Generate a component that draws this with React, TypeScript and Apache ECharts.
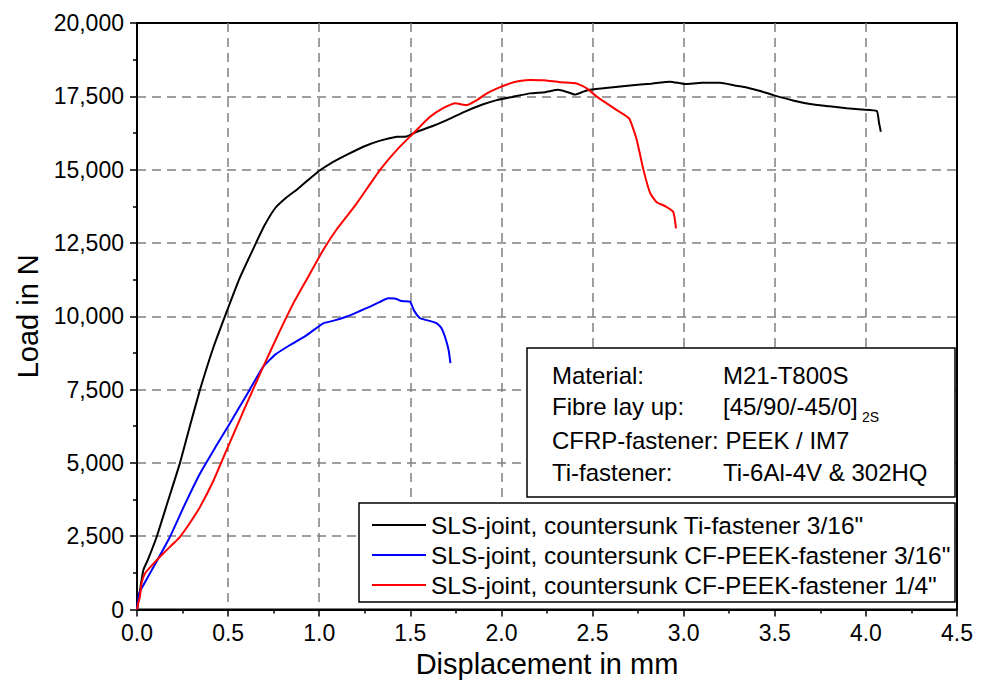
import React, { useEffect, useRef } from "react";
import * as echarts from "echarts";

const FONT = "'Liberation Sans', Arial, sans-serif";

const seriesNames = [
  'SLS-joint, countersunk Ti-fastener 3/16"',
  'SLS-joint, countersunk CF-PEEK-fastener 3/16"',
  'SLS-joint, countersunk CF-PEEK-fastener 1/4"',
];

const tiFastener316: number[][] = [
  [0, 0], [0.01, 400], [0.02, 800], [0.035, 1350], [0.06, 1700], [0.108, 2480], [0.17, 3700],
  [0.236, 5000], [0.29, 6250], [0.346, 7500], [0.42, 8950], [0.492, 10150], [0.56, 11250],
  [0.638, 12300], [0.7, 13100], [0.76, 13700], [0.82, 14050], [0.88, 14330], [0.94, 14650],
  [1.004, 14980], [1.059, 15200], [1.15, 15500], [1.242, 15780], [1.33, 15980], [1.426, 16120],
  [1.48, 16130], [1.535, 16290], [1.62, 16480], [1.7, 16690], [1.8, 16980], [1.9, 17230],
  [1.974, 17370], [2.06, 17480], [2.157, 17600], [2.24, 17640], [2.312, 17720], [2.36, 17650],
  [2.404, 17560], [2.45, 17660], [2.486, 17720], [2.6, 17800], [2.706, 17870], [2.82, 17930],
  [2.925, 18000], [3.008, 17920], [3.1, 17960], [3.2, 17960], [3.28, 17870], [3.346, 17800],
  [3.42, 17680], [3.492, 17540], [3.6, 17360], [3.694, 17240], [3.8, 17160], [3.895, 17090],
  [3.98, 17050], [4.06, 17000], [4.072, 16600], [4.082, 16290],
];

const peekFastener316: number[][] = [
  [0, 0], [0.012, 550], [0.05, 1000], [0.1, 1550], [0.181, 2480], [0.26, 3550], [0.346, 4640],
  [0.43, 5530], [0.51, 6350], [0.6, 7300], [0.693, 8280], [0.76, 8700], [0.84, 9020],
  [0.93, 9350], [1.022, 9760], [1.08, 9850], [1.151, 9990], [1.22, 10170], [1.279, 10330],
  [1.33, 10480], [1.379, 10610], [1.42, 10600], [1.45, 10520], [1.498, 10500], [1.52, 10200],
  [1.553, 9930], [1.6, 9850], [1.645, 9760], [1.67, 9600], [1.69, 9300], [1.71, 8850], [1.72, 8400],
];

const peekFastener14: number[][] = [
  [0, 0], [0.008, 250], [0.016, 440], [0.025, 900], [0.044, 1230], [0.09, 1560], [0.145, 1920],
  [0.2, 2250], [0.236, 2480], [0.29, 2950], [0.346, 3500], [0.42, 4400], [0.492, 5440],
  [0.59, 6850], [0.693, 8280], [0.78, 9450], [0.858, 10440], [0.94, 11350], [1.022, 12260],
  [1.1, 13000], [1.2, 13800], [1.334, 14990], [1.43, 15700], [1.517, 16240], [1.608, 16800],
  [1.68, 17100], [1.745, 17260], [1.81, 17200], [1.86, 17350], [1.92, 17600], [1.98, 17780],
  [2.047, 17940], [2.1, 18020], [2.157, 18060], [2.23, 18050], [2.321, 17980], [2.413, 17940],
  [2.468, 17770], [2.523, 17490], [2.58, 17250], [2.633, 17030], [2.7, 16750], [2.72, 16450],
  [2.743, 16000], [2.779, 15000], [2.816, 14200], [2.85, 13900], [2.9, 13750], [2.943, 13560],
  [2.958, 13000],
];

const seriesColors = ["#000000", "#0000ff", "#ff0000"];

const infoLabels = ["Material:", "Fibre lay up:", "CFRP-fastener: PEEK / IM7", "Ti-fastener:"];
const infoValues = ["M21-T800S", "[45/90/-45/0]", "", "Ti-6Al-4V & 302HQ"];
const layUpSubscript = "2S";

const X_MIN = 0, X_MAX = 4.5, X_STEP = 0.5;
const Y_MIN = 0, Y_MAX = 20000, Y_STEP = 2500;

export default function App() {
  const ref = useRef<HTMLDivElement>(null);

  useEffect(() => {
    document.body.style.margin = "0";
    const chart = echarts.init(ref.current!, null, { renderer: "svg" });
    const datasets = [tiFastener316, peekFastener316, peekFastener14];
    const infoY = [375, 406, 440, 472];
    const infoFont = `24px ${FONT}`;

    const graphics: any[] = [
      {
        type: "rect",
        shape: { x: 527, y: 348, width: 428, height: 149 },
        style: { fill: "#fff", stroke: "#000", lineWidth: 1.5 },
        z: 10,
      },
      {
        type: "rect",
        shape: { x: 359, y: 503, width: 596, height: 99 },
        style: { fill: "#fff", stroke: "#000", lineWidth: 1.5 },
        z: 10,
      },
    ];
    infoLabels.forEach((t, i) => {
      graphics.push({
        type: "text",
        x: 552,
        y: infoY[i],
        z: 11,
        style: { text: t, font: infoFont, fill: "#000", verticalAlign: "middle" },
      });
      if (infoValues[i]) {
        graphics.push({
          type: "text",
          x: 723,
          y: infoY[i],
          z: 11,
          style: { text: infoValues[i], font: infoFont, fill: "#000", verticalAlign: "middle" },
        });
      }
    });
    graphics.push({
      type: "text",
      x: 862,
      y: 417,
      z: 11,
      style: { text: layUpSubscript, font: `14px ${FONT}`, fill: "#000", verticalAlign: "middle" },
    });

    chart.setOption({
      animation: false,
      backgroundColor: "#fff",
      textStyle: { fontFamily: FONT },
      grid: {
        left: 137,
        right: 30,
        top: 23,
        bottom: 79.5,
        show: true,
        borderColor: "#000",
        borderWidth: 2,
        backgroundColor: "transparent",
        outerBoundsMode: "none",
        containLabel: false,
      },
      legend: {
        show: true,
        orient: "vertical",
        left: 372,
        top: 512,
        padding: 0,
        itemWidth: 54,
        itemHeight: 14,
        itemGap: 4,
        z: 12,
        textStyle: { fontSize: 24.5, lineHeight: 26, color: "#000", fontFamily: FONT },
        data: seriesNames.map((n) => ({ name: n, icon: "path://M0,0 L54,0 L54,2 L0,2 Z" })),
      },
      xAxis: {
        type: "value",
        min: X_MIN,
        max: X_MAX,
        interval: X_STEP,
        name: "Displacement in mm",
        nameLocation: "middle",
        nameGap: 38,
        nameTextStyle: { fontSize: 29, color: "#000", fontFamily: FONT },
        axisLine: { show: true, lineStyle: { color: "#000", width: 2 } },
        axisTick: { show: true, length: 7, lineStyle: { color: "#000", width: 1.5 } },
        minorTick: { show: true, splitNumber: 2, length: 4, lineStyle: { color: "#000", width: 1.5 } },
        axisLabel: {
          fontSize: 23,
          color: "#000",
          margin: 12,
          formatter: (v: number) => v.toFixed(1),
        },
        splitLine: {
          show: true,
          showMinLine: false,
          showMaxLine: false,
          lineStyle: { color: "#808080", width: 1.5, type: [9, 6] },
        },
      },
      yAxis: {
        type: "value",
        min: Y_MIN,
        max: Y_MAX,
        interval: Y_STEP,
        name: "Load in N",
        nameLocation: "middle",
        nameGap: 92,
        nameTextStyle: { fontSize: 29, color: "#000", fontFamily: FONT },
        axisLine: { show: true, lineStyle: { color: "#000", width: 2 } },
        axisTick: { show: true, length: 7, lineStyle: { color: "#000", width: 1.5 } },
        minorTick: { show: true, splitNumber: 2, length: 4, lineStyle: { color: "#000", width: 1.5 } },
        axisLabel: {
          fontSize: 23,
          color: "#000",
          margin: 13,
          formatter: (v: number) => String(v).replace(/\B(?=(\d{3})+(?!\d))/g, ","),
        },
        splitLine: {
          show: true,
          showMinLine: false,
          showMaxLine: false,
          lineStyle: { color: "#808080", width: 1.5, type: [9, 6] },
        },
      },
      series: datasets.map((d, i) => ({
        name: seriesNames[i],
        type: "line",
        data: d,
        showSymbol: false,
        symbol: "none",
        smooth: 0.15,
        lineStyle: { color: seriesColors[i], width: 2 },
        itemStyle: { color: seriesColors[i] },
        z: 3,
      })),
      graphic: graphics,
    });

    return () => chart.dispose();
  }, []);

  return <div ref={ref} style={{ width: 987, height: 689 }} />;
}
